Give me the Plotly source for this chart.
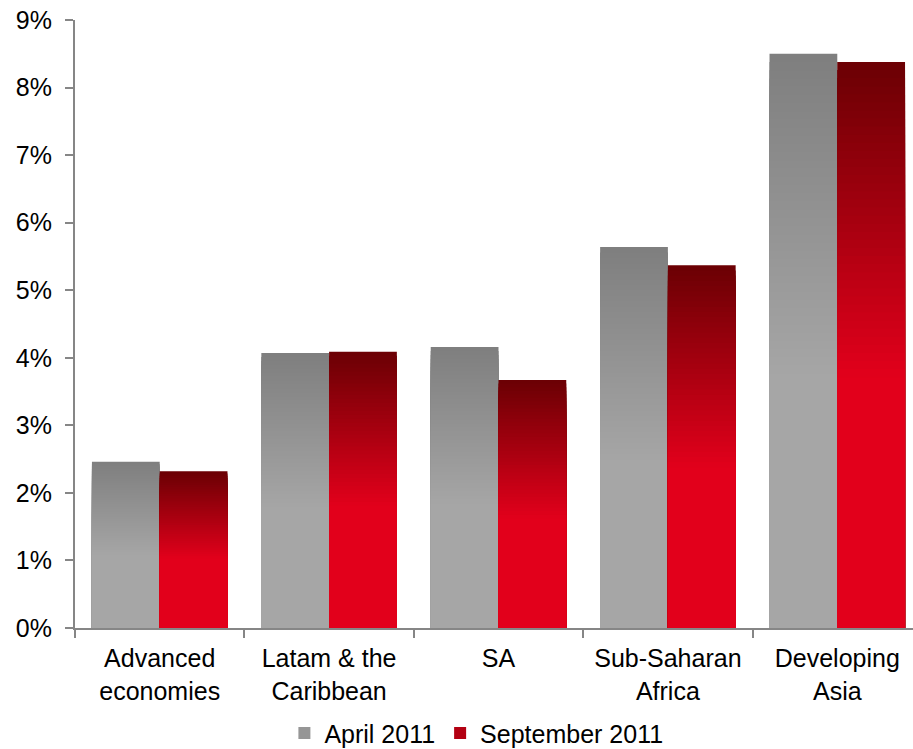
import plotly.graph_objects as go

# Real GDP growth forecasts by region
regions = ["Advanced<br>economies", "Latam & the<br>Caribbean", "SA",
           "Sub-Saharan<br>Africa", "Developing<br>Asia"]
april_2011 = [2.46, 4.07, 4.16, 5.64, 8.50]
september_2011 = [2.32, 4.09, 3.67, 5.37, 8.38]
y_ticks = [0, 1, 2, 3, 4, 5, 6, 7, 8, 9]
y_tick_text = [f"{t}%" for t in y_ticks]

# Vertical shading: dark at the top, easing into a flat colour over the lower part
GRAY_TOP, GRAY_BOTTOM = (127, 127, 127), (166, 166, 166)
RED_TOP, RED_BOTTOM = (108, 0, 4), (226, 0, 27)
FLAT_SHARE = 0.45   # lower share of each bar with the solid colour
STEPS = 70

FONT = "Arial, Liberation Sans, Helvetica, sans-serif"


def mix(c1, c2, t):
    return "rgb({},{},{})".format(*[round(a + (b - a) * t) for a, b in zip(c1, c2)])


def shaded_series(name, values, top, bottom, group, rank, legend_color):
    traces = []
    # tallest slice first; each following (shorter, lighter) slice is painted over it
    for k in range(STEPS, 0, -1):
        frac = k / STEPS
        if frac <= FLAT_SHARE:
            t = 1.0
        else:
            t = (1 - frac) / (1 - FLAT_SHARE)
        color = mix(top, bottom, t)
        traces.append(go.Bar(
            x=regions, y=[v * frac for v in values],
            offsetgroup=group, marker=dict(color=color, line=dict(width=0)),
            showlegend=False, hoverinfo="skip", name=name,
        ))
        if frac <= FLAT_SHARE:
            break
    # legend entry
    traces.append(go.Bar(
        x=regions, y=[0 for _ in values], offsetgroup=group, name=name,
        marker=dict(color=legend_color, line=dict(width=0)),
        showlegend=True, legendrank=rank, hoverinfo="skip",
    ))
    return traces


fig = go.Figure()
for tr in shaded_series("April 2011", april_2011, GRAY_TOP, GRAY_BOTTOM, "apr", 1,
                        mix(GRAY_TOP, GRAY_BOTTOM, 0.6)):
    fig.add_trace(tr)
for tr in shaded_series("September 2011", september_2011, RED_TOP, RED_BOTTOM, "sep", 2,
                        mix(RED_TOP, RED_BOTTOM, 0.6)):
    fig.add_trace(tr)

AXIS_GRAY = "#868686"

fig.update_layout(
    width=913, height=749,
    margin=dict(l=75, r=0, t=20, b=121, autoexpand=False),
    paper_bgcolor="white", plot_bgcolor="white",
    barmode="group", bargap=0.2, bargroupgap=0,
    font=dict(family=FONT, size=25, color="black"),
    showlegend=True,
    legend=dict(orientation="h", x=0.479, xanchor="center", y=-0.173, yanchor="middle",
                font=dict(size=25), traceorder="normal", itemclick=False,
                bgcolor="rgba(0,0,0,0)"),
    xaxis=dict(
        range=[-0.5, 4.447], showline=True, linecolor=AXIS_GRAY, linewidth=2,
        ticks="outside", tickson="boundaries", ticklen=8, tickcolor=AXIS_GRAY, tickwidth=2,
        tickfont=dict(size=25, color="black"), showgrid=False, zeroline=False,
        ticklabelstandoff=7, fixedrange=True,
    ),
    yaxis=dict(
        range=[0, 9], tickvals=y_ticks, ticktext=y_tick_text,
        showline=True, linecolor=AXIS_GRAY, linewidth=2,
        ticks="outside", ticklen=8, tickcolor=AXIS_GRAY, tickwidth=2,
        tickfont=dict(size=25, color="black"), showgrid=False, zeroline=False,
        ticklabelstandoff=8, fixedrange=True,
    ),
)

fig.write_html("out.html")
